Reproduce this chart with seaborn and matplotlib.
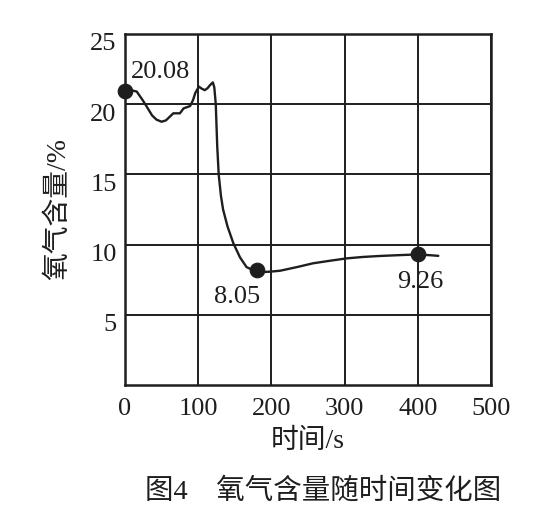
import numpy as np
import pandas as pd
import seaborn as sns
import matplotlib.pyplot as plt
import matplotlib.transforms as mtransforms

# values (time in s, oxygen in %)
time_s = [0, 8, 16, 24, 30, 37, 43, 50, 56, 62, 66, 75, 80, 89, 93, 96, 101,
          105, 109, 113, 116, 120, 122, 124, 126, 128, 131, 134, 140, 148,
          157, 166, 174, 181, 190, 200, 212, 235, 257, 280, 303, 325, 348,
          375, 400, 415, 428]
oxygen = [20.96, 21.0, 20.9, 20.3, 19.8, 19.2, 18.9, 18.75, 18.85, 19.15,
          19.35, 19.35, 19.7, 19.87, 20.3, 20.8, 21.25, 21.1, 21.0, 21.15,
          21.35, 21.55, 21.2, 20.0, 17.0, 15.0, 13.5, 12.5, 11.3, 10.1, 9.1,
          8.4, 8.2, 8.15, 8.05, 8.08, 8.14, 8.4, 8.67, 8.85, 9.02, 9.12, 9.19,
          9.25, 9.3, 9.25, 9.2]

# marked points and their labels
mark_t = [0, 180, 400]
mark_o = [20.96, 8.2, 9.31]
mark_text = ["20.08", "8.05", "9.26"]
text_t = [49, 153, 404]
text_o = [22.3, 6.25, 7.35]

x_ticks = [0, 100, 200, 300, 400, 500]
y_ticks = [5, 10, 15, 20, 25]

INK = "#1e1e1e"
FONT = ["Liberation Serif", "Noto Sans CJK SC"]

sns.set_theme(style="white")
plt.rcParams["font.family"] = FONT

df = pd.DataFrame({"t": time_s, "o2": oxygen})
marks = pd.DataFrame({"t": mark_t, "o2": mark_o})

fig = plt.figure(figsize=(5.59, 5.05), dpi=100)
ax = fig.add_axes([0.2236, 0.2376, 0.6548, 0.6951])

sns.lineplot(data=df, x="t", y="o2", ax=ax, sort=False, color=INK, lw=1.7)
sns.scatterplot(data=marks, x="t", y="o2", ax=ax, color=INK, s=110,
                edgecolor=INK, zorder=5, clip_on=False)

for tx, ty, s in zip(text_t, text_o, mark_text):
    ax.text(tx, ty, s, ha="center", va="center", fontsize=19, color=INK)

ax.set_xlim(0, 500)
ax.set_ylim(0, 25)
ax.set_xticks(x_ticks)
ax.set_yticks(y_ticks)
ax.grid(True, color=INK, lw=1.4)
ax.tick_params(length=0, labelsize=19, colors=INK)
ax.tick_params(axis="x", pad=9)
ax.tick_params(axis="y", pad=6)
for sp in ax.spines.values():
    sp.set_color(INK)
    sp.set_linewidth(1.8)

# y labels sit a little below their grid lines in the reference
shift = mtransforms.ScaledTranslation(0, -8 / 100, fig.dpi_scale_trans)
for lab in ax.get_yticklabels():
    lab.set_transform(lab.get_transform() + shift)

ax.set_xlabel("时间/s", fontsize=20, color=INK, labelpad=7)
ax.set_ylabel("氧气含量/%", fontsize=20, color=INK, labelpad=14)

fig.text(0.578, 0.026, "图4    氧气含量随时间变化图", ha="center", va="center",
         fontsize=20.5, color=INK)

fig.savefig("out.png", dpi=100, facecolor="white")
